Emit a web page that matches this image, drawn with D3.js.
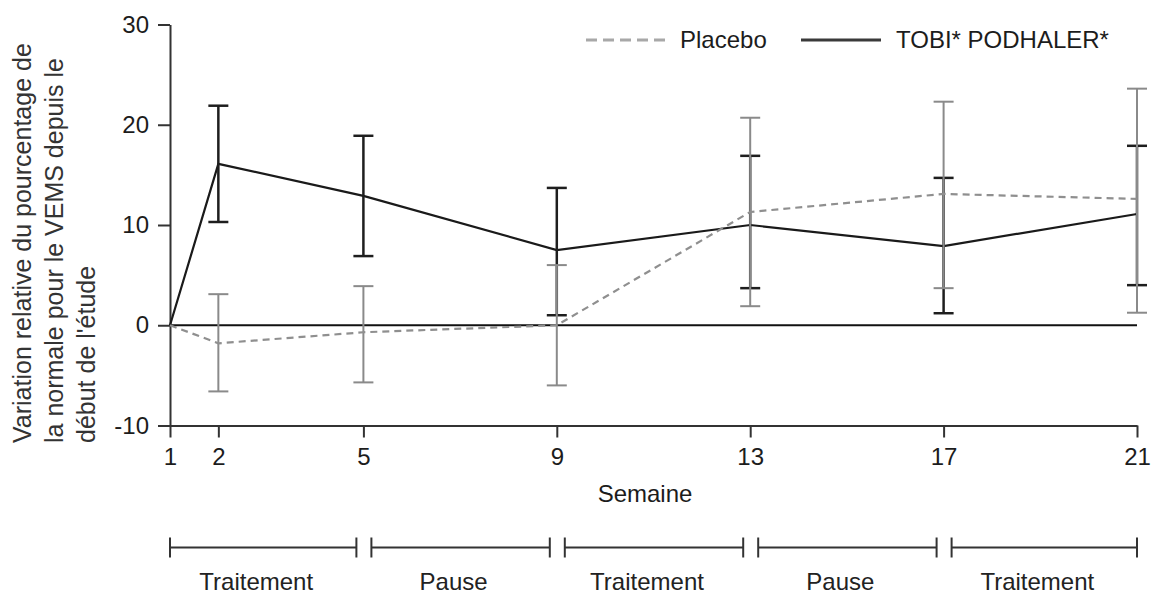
<!DOCTYPE html>
<html>
<head>
<meta charset="utf-8">
<script src="https://cdn.jsdelivr.net/npm/d3@7"></script>
<style>
	body { margin: 0; background: #fff; }
	text { font-family: "Liberation Sans", Arial, sans-serif; fill: #1c1c1c; }
	.axis path, .axis line { stroke: #333; stroke-width: 2; }
	.axis text { font-size: 24px; }
</style>
</head>
<body>
<script>
/*
Relative change in FEV1 chart
*/

// data
var weeks = [1, 2, 5, 9, 13, 17, 21];
var tobiMean = [0, 16.1, 12.9, 7.5, 10.0, 7.9, 11.1];
var tobiLow = [null, 10.3, 6.9, 1.0, 3.7, 1.2, 4.0];
var tobiHigh = [null, 21.9, 18.9, 13.7, 16.9, 14.7, 17.9];
var placeboMean = [0, -1.8, -0.7, 0, 11.3, 13.1, 12.6];
var placeboLow = [null, -6.6, -5.7, -6.0, 1.9, 3.7, 1.25];
var placeboHigh = [null, 3.1, 3.9, 6.0, 20.7, 22.3, 23.6];
var yTicks = [-10, 0, 10, 20, 30];
var phaseStart = [1, 5, 9, 13, 17];
var phaseEnd = [5, 9, 13, 17, 21];
var phaseLabels = ["Traitement", "Pause", "Traitement", "Pause", "Traitement"];
var yTitle = ["Variation relative du pourcentage de", "la normale pour le VEMS depuis le", "début de l'étude"];
var legendLabels = ["Placebo", "TOBI* PODHALER*"];

var svgWidth = 1151;
var svgHeight = 594;
var margin = {top: 24.5, right: 14, bottom: 168.5, left: 170};
var width = null;
var height = null;
var svg = null;

function initSVG(){
	svg = d3.select("body")
				.append("svg")
					.attr("width", svgWidth)
					.attr("height", svgHeight);
	width = svgWidth - margin.left - margin.right;
	height = svgHeight - margin.top - margin.bottom;
	buildVisualization();
};

function buildVisualization(){
	var xScale = d3.scaleLinear()
					.domain([1, 21])
					.range([0, 967]);
	var yScale = d3.scaleLinear()
					.domain([-10, 30])
					.range([height, 0]);
	var g = svg.append("g")
				.attr("transform", "translate(" + margin.left + "," + margin.top + ")");

	var tobi = weeks.map(function(w, i){ return {week: w, mean: tobiMean[i], low: tobiLow[i], high: tobiHigh[i]}; });
	var placebo = weeks.map(function(w, i){ return {week: w, mean: placeboMean[i], low: placeboLow[i], high: placeboHigh[i]}; });

	//axes
	g.append("g")
		.attr("class", "axis axis--x")
		.attr("transform", "translate(0," + height + ")")
		.call(d3.axisBottom(xScale).tickValues(weeks).tickFormat(d3.format("d")).tickSize(12).tickPadding(10).tickSizeOuter(0));
	g.append("g")
		.attr("class", "axis axis--y")
		.call(d3.axisLeft(yScale).tickValues(yTicks).tickFormat(function(d){ return String(d); }).tickSize(12).tickPadding(9).tickSizeOuter(0));
	g.selectAll(".axis text").attr("fill", "#1c1c1c");

	//zero line
	g.append("line")
		.attr("x1", xScale(1)).attr("x2", xScale(21))
		.attr("y1", yScale(0)).attr("y2", yScale(0))
		.attr("stroke", "#111").attr("stroke-width", 2);

	//tobi line
	var line = d3.line()
				.x(function(d){ return xScale(d.week); })
				.y(function(d){ return yScale(d.mean); });
	g.append("path")
		.datum(tobi)
		.attr("fill", "none")
		.attr("stroke", "#1a1a1a")
		.attr("stroke-width", 2.2)
		.attr("d", line);

	//error bars, black first, grey drawn over them
	function errorBars(data, colour, w){
		var bars = g.append("g")
			.selectAll("g")
			.data(data.filter(function(d){ return d.low !== null; }))
			.enter().append("g")
				.attr("stroke", colour)
				.attr("stroke-width", w);
		bars.append("line")
			.attr("x1", function(d){ return xScale(d.week); })
			.attr("x2", function(d){ return xScale(d.week); })
			.attr("y1", function(d){ return yScale(d.low); })
			.attr("y2", function(d){ return yScale(d.high); });
		bars.append("line")
			.attr("x1", function(d){ return xScale(d.week) - 10; })
			.attr("x2", function(d){ return xScale(d.week) + 10; })
			.attr("y1", function(d){ return yScale(d.high); })
			.attr("y2", function(d){ return yScale(d.high); });
		bars.append("line")
			.attr("x1", function(d){ return xScale(d.week) - 10; })
			.attr("x2", function(d){ return xScale(d.week) + 10; })
			.attr("y1", function(d){ return yScale(d.low); })
			.attr("y2", function(d){ return yScale(d.low); });
	}
	errorBars(tobi, "#1e1e1e", 2.5);
	errorBars(placebo, "#8a8a8a", 2);

	//placebo dashed line
	g.append("path")
		.datum(placebo)
		.attr("fill", "none")
		.attr("stroke", "#8f8f8f")
		.attr("stroke-width", 2.2)
		.attr("stroke-dasharray", "7,5")
		.attr("d", line);

	//legend
	var legend = svg.append("g");
	legend.append("line")
		.attr("x1", 586).attr("x2", 666).attr("y1", 40).attr("y2", 40)
		.attr("stroke", "#a8a8a8").attr("stroke-width", 3)
		.attr("stroke-dasharray", "11,6");
	legend.append("text")
		.attr("x", 680).attr("y", 48)
		.style("font-size", "24px")
		.text(legendLabels[0]);
	legend.append("line")
		.attr("x1", 801).attr("x2", 881).attr("y1", 40).attr("y2", 40)
		.attr("stroke", "#3a3a3a").attr("stroke-width", 3);
	legend.append("text")
		.attr("x", 896).attr("y", 48)
		.style("font-size", "24px")
		.text(legendLabels[1]);

	//axis titles
	svg.append("text")
		.attr("x", margin.left + 475)
		.attr("y", 502)
		.attr("text-anchor", "middle")
		.style("font-size", "24px")
		.text("Semaine");
	svg.append("g")
		.selectAll("text")
		.data(yTitle)
		.enter().append("text")
			.attr("transform", function(d, i){ return "translate(" + (31 + i * 32) + ",443) rotate(-90)"; })
			.style("font-size", "25px")
			.style("fill", "#333")
			.text(function(d){ return d; });

	//treatment phases
	var phases = phaseStart.map(function(s, i){ return {start: s, end: phaseEnd[i], label: phaseLabels[i], i: i}; });
	var pg = g.append("g")
		.attr("transform", "translate(0," + (547.5 - margin.top) + ")")
		.selectAll("g")
		.data(phases)
		.enter().append("g")
			.attr("stroke", "#333")
			.attr("stroke-width", 2);
	function segX0(d){ return xScale(d.start) + (d.i === 0 ? 0 : 8); }
	function segX1(d){ return xScale(d.end) - (d.i === phases.length - 1 ? 0 : 7); }
	pg.append("line")
		.attr("x1", segX0).attr("x2", segX1)
		.attr("y1", 0).attr("y2", 0);
	pg.append("line")
		.attr("x1", segX0).attr("x2", segX0)
		.attr("y1", -10).attr("y2", 10);
	pg.append("line")
		.attr("x1", segX1).attr("x2", segX1)
		.attr("y1", -10).attr("y2", 10);
	pg.append("text")
		.attr("stroke", "none")
		.attr("x", function(d){ return (segX0(d) + segX1(d)) / 2 - 7; })
		.attr("y", 42)
		.attr("text-anchor", "middle")
		.style("font-size", "24px")
		.style("fill", "#222")
		.text(function(d){ return d.label; });
};

initSVG();
</script>
</body>
</html>
